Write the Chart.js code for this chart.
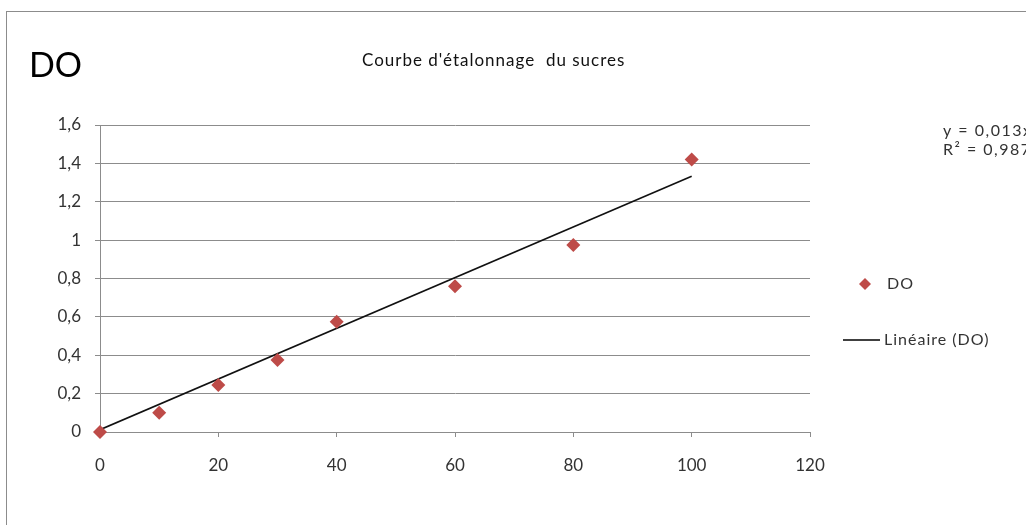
<!DOCTYPE html>
<html>
<head>
<meta charset="utf-8">
<script src="https://cdn.jsdelivr.net/npm/chart.js@4"></script>
<style>
  html, body { margin: 0; padding: 0; background: #fff; }
  #wrap { width: 1026px; height: 525px; }
</style>
</head>
<body>
<div id="wrap"><canvas id="myChart" width="1026" height="525"></canvas></div>
<script>
// sugar calibration: concentration vs optical density (DO)
const concentrations = [0, 10, 20, 30, 40, 60, 80, 100];
const doValues = [0, 0.10, 0.245, 0.375, 0.575, 0.76, 0.975, 1.42];
const trendX = [0, 100];
const trendY = [0.012, 1.333];

const FONT = 'Lato, "DejaVu Sans", sans-serif';
const fmt = v => (Math.round(v * 10) / 10).toString().replace('.', ',');

const decorations = {
    id: 'decorations',
    beforeDraw(chart) {
        const c = chart.ctx;
        c.save();
        c.fillStyle = '#fff';
        c.fillRect(0, 0, chart.width, chart.height);
        c.strokeStyle = '#8c8c8c';
        c.lineWidth = 1;
        c.strokeRect(6.5, 11.5, 1100, 600);
        c.restore();
    },
    afterDraw(chart) {
        const c = chart.ctx;
        c.save();
        c.fillStyle = '#000';
        c.textBaseline = 'alphabetic';
        c.textAlign = 'left';
        c.font = '34px ' + FONT;
        c.fillText('DO', 29, 77);
        c.fillStyle = '#111';
        c.letterSpacing = '1px';
        c.font = '17px ' + FONT;
        c.fillText("Courbe d'étalonnage  du sucres", 362, 66);

        // trendline equation (cut at the right edge as in the original)
        c.fillStyle = '#333';
        c.font = '16px ' + FONT;
        c.letterSpacing = '1.5px';
        c.fillText('y = 0,013x', 943, 136);
        c.fillText('R² = 0,987', 943, 155);

        // legend
        c.letterSpacing = '1px';
        c.fillStyle = '#be4b48';
        c.beginPath();
        c.moveTo(865, 278); c.lineTo(871, 284); c.lineTo(865, 290); c.lineTo(859, 284);
        c.closePath();
        c.fill();
        c.strokeStyle = '#000';
        c.lineWidth = 1.5;
        c.beginPath();
        c.moveTo(843, 340); c.lineTo(880, 340);
        c.stroke();
        c.fillStyle = '#333';
        c.font = '16px ' + FONT;
        c.textBaseline = 'middle';
        c.fillText('DO', 887, 284);
        c.fillText('Linéaire (DO)', 884, 340);
        c.restore();
    }
};

const ctx = document.getElementById('myChart').getContext('2d');

const myChart = new Chart(ctx, {
    type: 'scatter',
    data: {
        datasets: [{
            label: 'DO',
            data: concentrations.map((x, i) => ({ x: x, y: doValues[i] })),
            pointStyle: 'rectRot',
            pointRadius: 7,
            backgroundColor: '#be4b48',
            borderColor: '#be4b48',
            borderWidth: 0,
            clip: false,
            order: 1
        }, {
            type: 'line',
            label: 'Linéaire (DO)',
            data: trendX.map((x, i) => ({ x: x, y: trendY[i] })),
            borderColor: '#111',
            borderWidth: 1.6,
            pointRadius: 0,
            fill: false,
            order: 2
        }]
    },
    options: {
        responsive: false,
        animation: false,
        layout: { padding: { left: 20, right: 216, top: 125, bottom: 48 } },
        plugins: {
            legend: { display: false },
            title: { display: false },
            tooltip: { enabled: false }
        },
        scales: {
            x: {
                type: 'linear',
                min: 0,
                max: 120,
                afterFit: s => { s.height = 45; },
                border: { color: '#8c8c8c', width: 1 },
                grid: { drawOnChartArea: false, drawTicks: true, tickLength: 5, color: '#8c8c8c' },
                ticks: { stepSize: 20, padding: 18, color: '#333', font: { family: FONT, size: 17 } }
            },
            y: {
                min: 0,
                max: 1.6,
                afterFit: s => { s.width = 80; },
                border: { color: '#8c8c8c', width: 1 },
                grid: { color: '#8c8c8c', tickLength: 5 },
                ticks: { stepSize: 0.2, padding: 14, color: '#333', font: { family: FONT, size: 17 }, callback: fmt }
            }
        }
    },
    plugins: [decorations]
});
</script>
</body>
</html>
